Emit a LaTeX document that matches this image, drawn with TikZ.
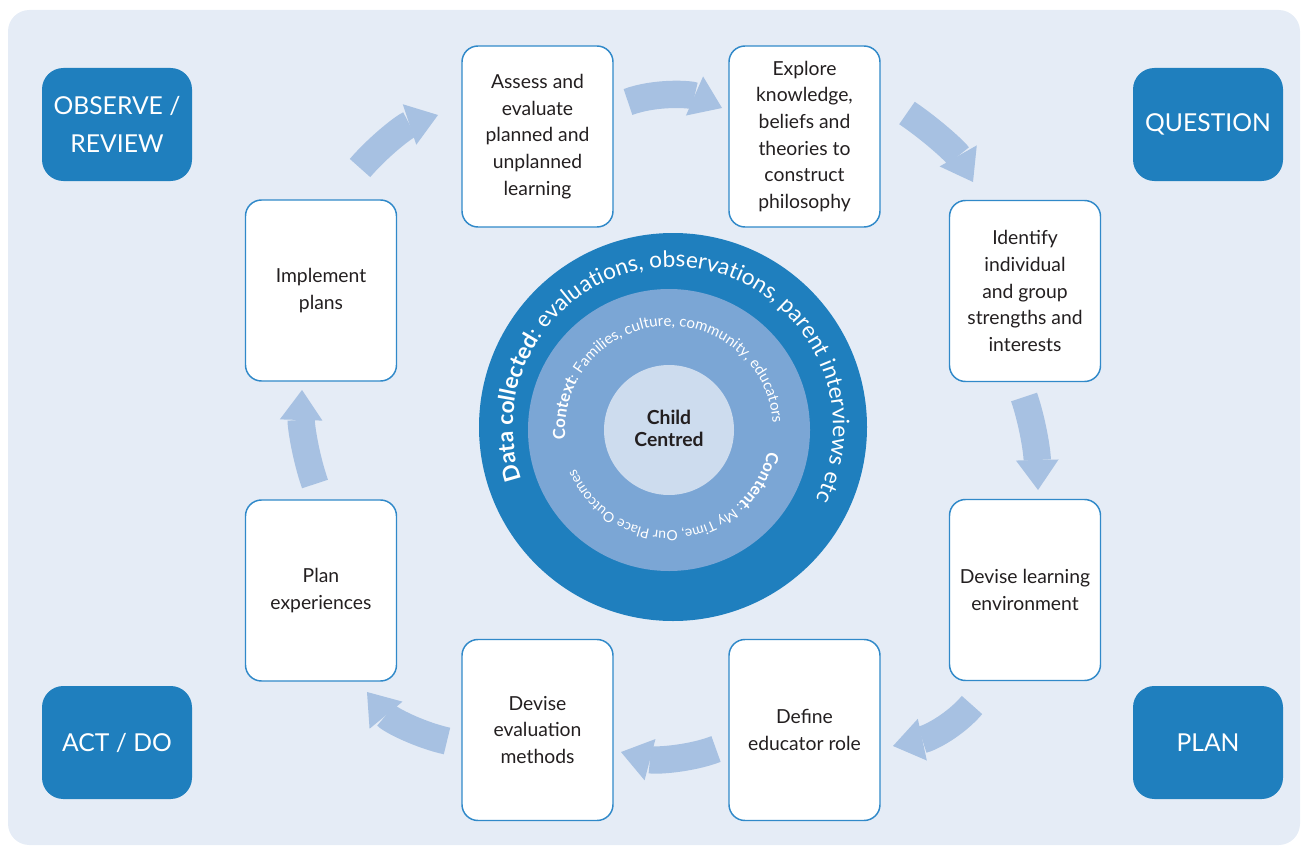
\documentclass[tikz,border=0pt]{standalone}
\usepackage{fontspec}
\setmainfont{Lato}
\usetikzlibrary{arrows.meta,decorations.text}

\definecolor{bgblue}{RGB}{229,236,246}
\definecolor{phaseblue}{RGB}{31,127,190}
\definecolor{boxline}{RGB}{48,137,201}
\definecolor{ringblue}{RGB}{123,166,213}
\definecolor{coreblue}{RGB}{205,220,238}
\definecolor{arrowblue}{RGB}{167,193,226}
\definecolor{textdark}{RGB}{35,31,32}

\newcommand\ringfontA{\fontsize{17}{17}\selectfont}
\newcommand\ringfontB{\fontsize{11.3}{11.3}\selectfont}
\newcommand\ringfontC{\fontsize{12.5}{12.5}\selectfont}
\newcommand\ringfontD{\fontsize{10.5}{10.5}\selectfont}

\tikzset{every picture/.style={line width=0.75pt}}
\tikzset{
  stepbox/.style={draw=boxline, line width=1.1pt, fill=white, rounded corners=12pt,
    minimum width=113.25pt, minimum height=135.75pt, inner sep=0pt, align=center,
    text=textdark, font=\fontsize{14.5}{20}\selectfont},
  phasebox/.style={fill=phaseblue, rounded corners=16pt, minimum width=112.5pt,
    minimum height=84.75pt, inner sep=0pt, align=center, text=white,
    font=\fontsize{18.5}{28.5}\selectfont},
  cyclearrow/.style={draw=arrowblue, line width=20.5pt,
    -{Triangle[width=32pt,length=22.5pt,line width=0pt]}},
  ringtext/.style={decorate, decoration={text along path, text align=left,
    text color=white, text={#1}}},
}

\begin{document}
\begin{tikzpicture}[x=0.75pt,y=0.75pt,yscale=-1,xscale=1]
	\useasboundingbox (0,0) rectangle (1306,849);
	
	%Background
	\fill[bgblue, rounded corners=16pt] (8,10) rectangle (1300,845);
	
	%Circles
	\fill[phaseblue] (673,427) circle (194);
	\fill[ringblue] (669,430) circle (141);
	\fill[coreblue] (669,430) circle (65);
	
	% Ring texts
	\path[ringtext={|\ringfontA\bfseries|Data collected|\ringfontA|: evaluations, observations, parent interviews etc}]
	  (673,427) ++(-199:160) arc[start angle=-199, end angle=60, radius=160];
	\path[ringtext={|\ringfontC\bfseries|Context|\ringfontB|: Families, culture, community, educators}]
	  (669,430) ++(-185:104) arc[start angle=-185, end angle=40, radius=104];
	\path[ringtext={|\ringfontC\bfseries|Content|\ringfontD|: My Time, Our Place Outcomes}]
	  (669,430) ++(12:101) arc[start angle=12, end angle=220, radius=101];
	
	% Text Node
	\node[text=textdark, align=center, font=\bfseries\fontsize{14.5}{16.5}\selectfont] (child) at (669,428) {Child\\Centred};
	
	%Phase boxes
	\node[phasebox] (observe) at (117,124.5) {OBSERVE /\\REVIEW};
	\node[phasebox] (question) at (1208,124.5) {QUESTION};
	\node[phasebox] (actdo) at (117,742.5) {ACT / DO};
	\node[phasebox] (plan) at (1208,742.5) {PLAN};
	
	%Step boxes
	\node[stepbox] (assess) at (537.5,136.5) {Assess and\\evaluate\\planned and\\unplanned\\learning};
	\node[stepbox] (explore) at (804.5,136.5) {Explore\\knowledge,\\beliefs and\\theories to\\construct\\philosophy};
	\node[stepbox] (identify) at (1025,291) {Identify\\individual\\and group\\strengths and\\interests};
	\node[stepbox] (devenv) at (1025,590) {Devise learning\\environment};
	\node[stepbox] (defrole) at (804.5,730) {Define\\educator role};
	\node[stepbox] (deveval) at (537.5,730) {Devise\\evaluation\\methods};
	\node[stepbox] (planexp) at (321,590.5) {Plan\\experiences};
	\node[stepbox] (implement) at (321,290.5) {Implement\\plans};
	
	%Arrow ends
	\coordinate (a1s) at (360,168);  \coordinate (a1e) at (438,115);
	\coordinate (a2s) at (628,102);  \coordinate (a2e) at (722,108);
	\coordinate (a3s) at (907,113);  \coordinate (a3e) at (973,182);
	\coordinate (a4s) at (1024,397); \coordinate (a4e) at (1038,490);
	\coordinate (a5s) at (972,705);  \coordinate (a5e) at (893,746);
	\coordinate (a6s) at (716,749);  \coordinate (a6e) at (621,752);
	\coordinate (a7s) at (447,741);  \coordinate (a7e) at (367,692);
	\coordinate (a8s) at (315,484);  \coordinate (a8e) at (302,390);
	
	%Curved Arrows
	\draw[cyclearrow] (a1s) .. controls (380,145) and (405,126) .. (a1e);
	\draw[cyclearrow] (a2s) .. controls (655,92) and (690,94) .. (a2e);
	\draw[cyclearrow] (a3s) .. controls (932,130) and (956,152) .. (a3e);
	\draw[cyclearrow] (a4s) .. controls (1032,420) and (1037,450) .. (a4e);
	\draw[cyclearrow] (a5s) .. controls (955,725) and (930,738) .. (a5e);
	\draw[cyclearrow] (a6s) .. controls (690,759) and (655,761) .. (a6e);
	\draw[cyclearrow] (a7s) .. controls (420,735) and (390,720) .. (a7e);
	\draw[cyclearrow] (a8s) .. controls (305,455) and (301,425) .. (a8e);
	
\end{tikzpicture}
\end{document}
